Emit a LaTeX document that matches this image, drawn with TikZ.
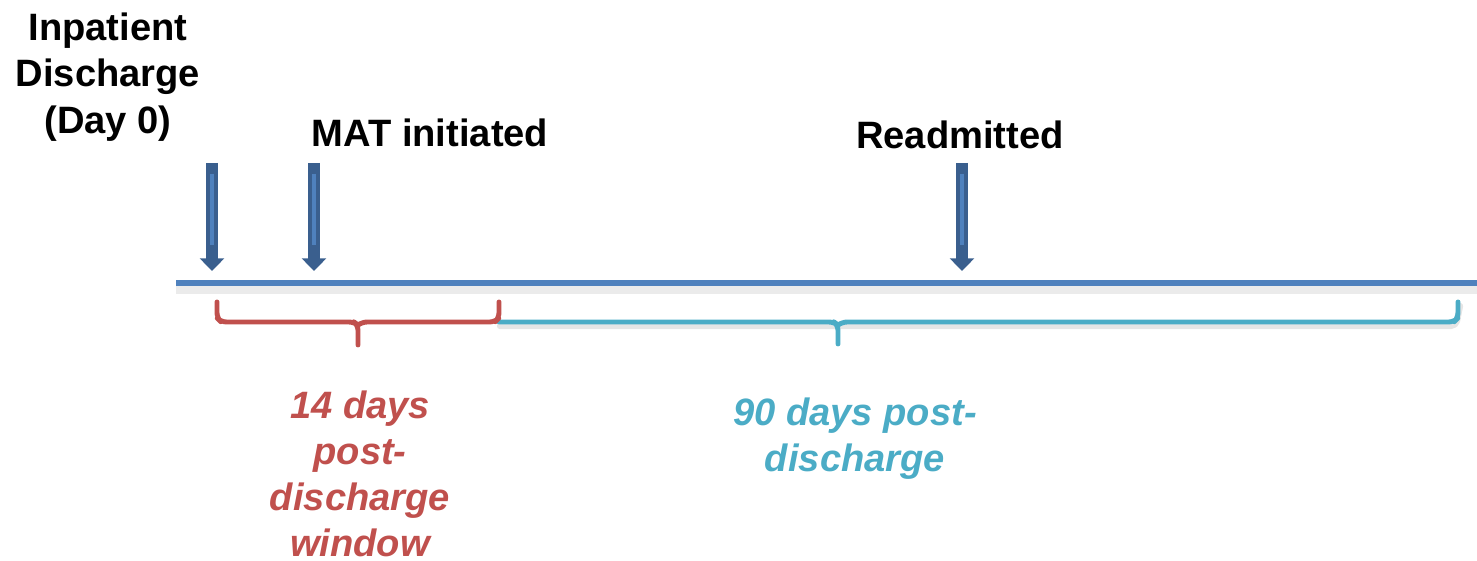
\documentclass[tikz,border=0pt]{standalone}
\usepackage{fontspec}
\setmainfont{Liberation Sans}
\usetikzlibrary{arrows.meta}
\definecolor{lineblue}{HTML}{4F81BD}
\definecolor{darkblue}{HTML}{3A5F8E}
\definecolor{winred}{HTML}{C0504D}
\definecolor{wincyan}{HTML}{4BACC6}
\tikzset{
  label/.style={font=\fontsize{10.85}{13.3}\selectfont\bfseries, align=center, inner sep=0pt},
  winlabel/.style={label, font=\fontsize{10.85}{13.1}\selectfont\bfseries\itshape},
  blockarrow/.style={line width=3.3pt, darkblue, -{Triangle[width=6.8pt,length=3.6pt]}},
  brace/.style={line width=1.4pt, rounded corners=1.5pt, line cap=round}
}
\begin{document}
\begin{tikzpicture}[line join=round, x=1cm, y=1cm]
                \useasboundingbox (0,0) rectangle (14.77,5.61);

                % time line
                \coordinate (start) at (1.76,2.78);
                \coordinate (end) at (14.77,2.78);
                \draw[line width=2pt, black!8] ([yshift=-2pt]start) -- ([yshift=-2pt]end);
                \draw[line width=1.5pt, lineblue] (start) -- (end);

                % labels
                \node[label] (discharge) at (1.08,4.84) {Inpatient\\Discharge\\(Day 0)};
                \node[label, anchor=west] (mat) at (3.11,4.28) {MAT initiated};
                \node[label] (readmit) at (9.60,4.26) {Readmitted};

                % arrows onto the line
                \coordinate (dtop) at (2.12,3.98);
                \coordinate (dtip) at (2.12,2.90);
                \coordinate (mtop) at (3.14,3.98);
                \coordinate (mtip) at (3.14,2.90);
                \coordinate (rtop) at (9.62,3.98);
                \coordinate (rtip) at (9.62,2.90);
                \draw[blockarrow] (dtop) -- (dtip);
                \draw[blockarrow] (mtop) -- (mtip);
                \draw[blockarrow] (rtop) -- (rtip);
                \draw[line width=1pt, lineblue] ([yshift=-3pt]dtop) -- ([yshift=4pt]dtip |- 0,3.02);
                \draw[line width=1pt, lineblue] ([yshift=-3pt]mtop) -- ([yshift=4pt]mtip |- 0,3.02);
                \draw[line width=1pt, lineblue] ([yshift=-3pt]rtop) -- ([yshift=4pt]rtip |- 0,3.02);

                % 90 day brace
                \draw[brace, black!10, line width=1.8pt] (5.00,2.35) -- (14.56,2.35) -- (14.60,2.55);
                \draw[brace, wincyan] (4.99,2.39) -- (8.34,2.39) -- (8.38,2.36) -- (8.38,2.17);
                \draw[brace, wincyan] (8.38,2.36) -- (8.42,2.39) -- (14.54,2.39) -- (14.58,2.43) -- (14.58,2.59);

                % 14 day brace
                \draw[brace, winred] (2.17,2.59) -- (2.17,2.43) -- (2.21,2.39) -- (3.54,2.39) -- (3.58,2.36) -- (3.58,2.16);
                \draw[brace, winred] (3.58,2.36) -- (3.62,2.39) -- (4.95,2.39) -- (4.99,2.43) -- (4.99,2.59);

                \node[winlabel, text=winred] (short) at (3.60,0.87) {14 days\\post-\\discharge\\window};
                \node[winlabel, text=wincyan] (long) at (8.55,1.22) {90 days post-\\discharge};

\end{tikzpicture}
\end{document}
